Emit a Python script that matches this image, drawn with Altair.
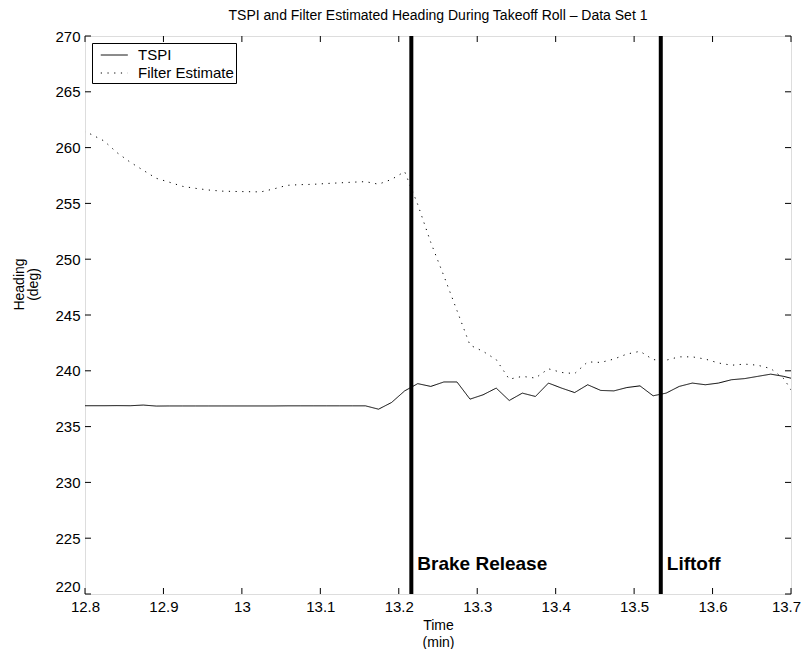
import altair as alt
import pandas as pd

# sample times (min), 1 s apart
times = [12.7908, 12.8075, 12.8242, 12.8408, 12.8575, 12.8742, 12.8908, 12.9075, 12.9242, 12.9408,
         12.9575, 12.9742, 12.9908, 13.0075, 13.0242, 13.0408, 13.0575, 13.0742, 13.0908, 13.1075,
         13.1242, 13.1408, 13.1575, 13.1742, 13.1908, 13.2075, 13.2242, 13.2408, 13.2575, 13.2742,
         13.2908, 13.3075, 13.3242, 13.3408, 13.3575, 13.3742, 13.3908, 13.4075, 13.4242, 13.4408,
         13.4575, 13.4742, 13.4908, 13.5075, 13.5242, 13.5408, 13.5575, 13.5742, 13.5908, 13.6075,
         13.6242, 13.6408, 13.6575, 13.6742, 13.6908, 13.7075]

tspi = [236.87, 236.87, 236.87, 236.88, 236.87, 236.93, 236.84, 236.85, 236.85, 236.85,
        236.85, 236.85, 236.85, 236.85, 236.85, 236.85, 236.86, 236.86, 236.86, 236.86,
        236.86, 236.86, 236.86, 236.56, 237.16, 238.20, 238.85, 238.60, 239.00, 239.00,
        237.46, 237.85, 238.45, 237.34, 238.00, 237.70, 238.90, 238.45, 238.05, 238.75,
        238.24, 238.20, 238.50, 238.65, 237.76, 238.00, 238.60, 238.90, 238.75, 238.90,
        239.20, 239.30, 239.50, 239.70, 239.50, 239.20]

filt = [261.70, 261.20, 260.60, 259.55, 258.70, 257.97, 257.25, 256.90, 256.53, 256.35,
        256.20, 256.10, 256.07, 256.05, 256.03, 256.30, 256.62, 256.68, 256.71, 256.78,
        256.84, 256.90, 256.95, 256.72, 257.15, 257.85, 254.90, 251.50, 248.50, 245.40,
        242.30, 241.74, 241.00, 239.25, 239.50, 239.35, 240.18, 239.85, 239.75, 240.80,
        240.75, 241.05, 241.50, 241.75, 241.00, 240.95, 241.25, 241.25, 241.05, 240.70,
        240.50, 240.60, 240.50, 240.20, 239.30, 237.50]

series_names = ["TSPI", "Filter Estimate"]
event_times = [13.216, 13.534]
event_labels = ["Brake Release", "Liftoff"]
x_ticks = [12.8, 12.9, 13.0, 13.1, 13.2, 13.3, 13.4, 13.5, 13.6, 13.7]
y_ticks = [220, 225, 230, 235, 240, 245, 250, 255, 260, 265, 270]

W, H = 706, 558
FONT = "Liberation Sans"

rows = []
for t, a, b in zip(times, tspi, filt):
    rows.append({"t": t, "h": a, "s": series_names[0]})
    rows.append({"t": t, "h": b, "s": series_names[1]})
df = pd.DataFrame(rows)

xs = alt.Scale(domain=[12.8, 13.7], nice=False, zero=False)
ys = alt.Scale(domain=[220, 270], nice=False, zero=False)

leg = dict(title=None, orient="none", legendX=7, legendY=7,
           fillColor="white", strokeColor="black", padding=2,
           labelFont=FONT, labelFontSize=15, labelColor="black", labelOffset=24,
           symbolType="M-0.34,0H2.5", symbolSize=361, symbolStrokeWidth=1,
           rowPadding=0)

lines = alt.Chart(df).mark_line(strokeWidth=1, clip=True).encode(
    x=alt.X("t:Q", scale=xs,
            axis=alt.Axis(values=x_ticks, ticks=False, domain=False, grid=False,
                          labelFontSize=15, labelFont=FONT, labelColor="black",
                          labelPadding=5, labelFlush=False, format="~g",
                          labelOffset={"condition": {"test": "datum.value == 13.7", "value": -5},
                                       "value": 0},
                          title=["Time", "(min)"], titleFont=FONT, titleFontSize=14,
                          titleFontWeight="normal", titleColor="black", titlePadding=4,
                          titleLineHeight=17)),
    y=alt.Y("h:Q", scale=ys,
            axis=alt.Axis(values=y_ticks, ticks=False, domain=False, grid=False,
                          labelFontSize=15, labelFont=FONT, labelColor="black",
                          labelPadding=5, labelFlush=False,
                          labelBaseline={"condition": {"test": "datum.value == 220", "value": "bottom"},
                                         "value": "middle"},
                          title=["Heading", "(deg)"], titleFont=FONT, titleFontSize=14,
                          titleFontWeight="normal", titleColor="black", titlePadding=14,
                          titleLineHeight=14, titleY=248)),
    color=alt.Color("s:N", scale=alt.Scale(domain=series_names, range=["black", "black"]),
                    legend=alt.Legend(**leg)),
    strokeDash=alt.StrokeDash("s:N", scale=alt.Scale(domain=series_names, range=[[1, 0], [1.2, 5.5]]),
                              legend=alt.Legend(**leg)),
)

ev = pd.DataFrame({"t": event_times, "lab": event_labels, "y": [222.7, 222.7]})
ev_rules = alt.Chart(ev).mark_rule(color="black", strokeWidth=4).encode(
    x=alt.X("t:Q", scale=xs), y=alt.value(0), y2=alt.value(H))
ev_text = alt.Chart(ev).mark_text(align="left", baseline="middle", dx=6, fontSize=19,
                                  fontWeight="bold", font=FONT, color="black").encode(
    x=alt.X("t:Q", scale=xs), y=alt.Y("y:Q", scale=ys), text="lab:N")

xt = pd.DataFrame({"t": x_ticks})
yt = pd.DataFrame({"h": y_ticks})
xb = alt.Chart(xt).mark_rule(color="black", strokeWidth=1).encode(
    x=alt.X("t:Q", scale=xs), y=alt.value(H), y2=alt.value(H - 6))
xtop = alt.Chart(xt).mark_rule(color="black", strokeWidth=1).encode(
    x=alt.X("t:Q", scale=xs), y=alt.value(0), y2=alt.value(6))
yl = alt.Chart(yt).mark_rule(color="black", strokeWidth=1).encode(
    y=alt.Y("h:Q", scale=ys), x=alt.value(0), x2=alt.value(6))
yr = alt.Chart(yt).mark_rule(color="black", strokeWidth=1).encode(
    y=alt.Y("h:Q", scale=ys), x=alt.value(W), x2=alt.value(W - 6))

chart = alt.layer(xb, xtop, yl, yr, lines, ev_rules, ev_text).properties(
    width=W, height=H,
    title=alt.TitleParams("TSPI and Filter Estimated Heading During Takeoff Roll  \u2013  Data Set 1",
                          font=FONT, fontSize=14, fontWeight="normal", color="black",
                          anchor="middle", offset=6),
    autosize=alt.AutoSizeParams(type="none"),
    padding={"left": 77, "top": 28, "right": 10, "bottom": 55},
).configure_view(stroke="black", strokeWidth=1.5).configure(background="white")

chart.save("out.html", embed_options={"renderer": "svg", "actions": False})
